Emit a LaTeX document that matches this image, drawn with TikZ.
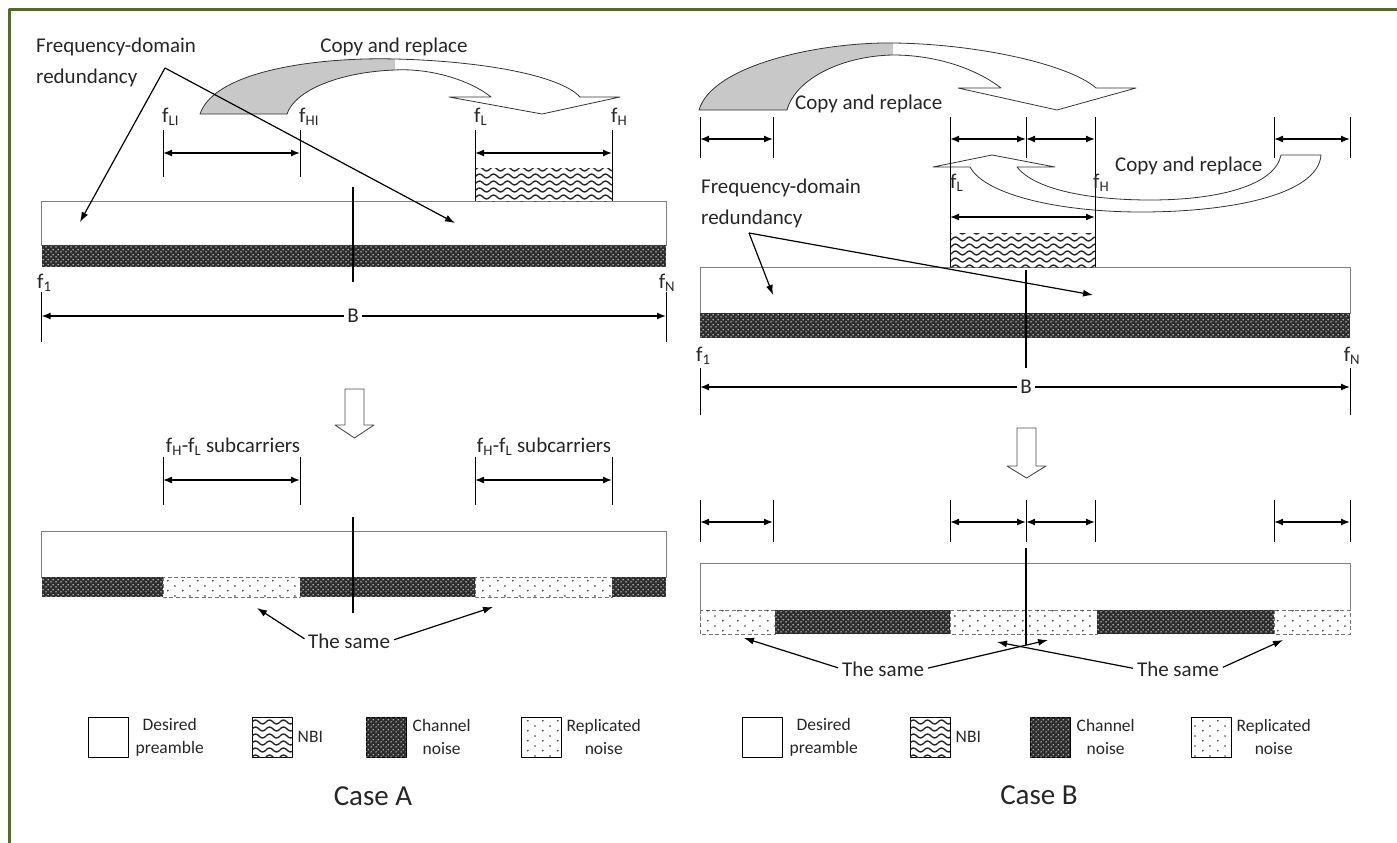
\documentclass[tikz,border=0pt]{standalone}
\usepackage{fontspec}
\setmainfont{Carlito}
\usetikzlibrary{arrows.meta,positioning,patterns.meta}
\definecolor{frameolive}{HTML}{4F6A2A}
\definecolor{backgray}{HTML}{C8C8C8}
\definecolor{textgray}{HTML}{262626}

\tikzdeclarepattern{
  name=nbiwaves, type=uncolored,
  bounding box={(0pt,-1pt) and (14pt,5pt)},
  tile size={(14pt,7pt)},
  code={\draw[line width=1.4pt] (0pt,2pt) sin (3.5pt,4pt) cos (7pt,2pt) sin (10.5pt,0pt) cos (14pt,2pt);}
}
\tikzdeclarepattern{
  name=chnoise, type=uncolored,
  bounding box={(0pt,0pt) and (5pt,5pt)},
  tile size={(5pt,5pt)},
  code={\fill (1.25pt,1.25pt) circle (0.85pt); \fill (3.75pt,3.75pt) circle (0.85pt);}
}
\tikzdeclarepattern{
  name=repdots, type=uncolored,
  bounding box={(0pt,0pt) and (15pt,10pt)},
  tile size={(15pt,10pt)},
  code={\fill (3pt,2.5pt) circle (1pt); \fill (10.5pt,7.5pt) circle (1pt);}
}

\tikzset{
  framelines/.style={draw=frameolive,line width=3pt},
  barwhite/.style={draw=black!50,line width=0.8pt,fill=white},
  chband/.style={fill=black!82,postaction={pattern=chnoise,pattern color=black!12}},
  repband/.style={draw=black!55,dash pattern=on 4pt off 2.5pt,line width=0.7pt,fill=white,
    postaction={pattern=repdots,pattern color=black!75}},
  nbipatch/.style={fill=white,postaction={pattern=nbiwaves,pattern color=black!85}},
  tickline/.style={black,line width=0.8pt},
  dimarrow/.style={{Latex[length=9pt,width=7pt]}-{Latex[length=9pt,width=7pt]},line width=1.4pt},
  halfdim/.style={-{Latex[length=9pt,width=7pt]},line width=1.4pt},
  pointer/.style={-{Latex[length=10pt,width=7pt]},line width=1.2pt},
  midline/.style={line width=1.8pt},
  copyarrow/.style={draw=black!80,line width=0.8pt},
  hollowarrow/.style={draw=black!70,line width=0.9pt,fill=white},
  lbl/.style={font=\fontsize{21}{31}\selectfont,text=textgray,inner sep=0pt},
  legtext/.style={font=\fontsize{17.5}{23}\selectfont,text=textgray,align=center,inner sep=0pt},
  legbox/.style={draw=black,line width=1pt,minimum width=40pt,minimum height=40pt,inner sep=0pt},
  casetitle/.style={font=\fontsize{29}{34}\selectfont,text=textgray}
}

\begin{document}
\begin{tikzpicture}[x=1pt,y=-1pt,line join=round]
\useasboundingbox (0,0) rectangle (1397,843);
\draw[framelines] (9.5,843) -- (9.5,9.5) -- (1397,9.5);

% ================= Case A =================
% copy and replace arrow
\fill[backgray] (200,114) .. controls (215,70) and (320,57) .. (395,59)
  -- (395,70) .. controls (340,72) and (295,90) .. (287,114) -- cycle;
\draw[copyarrow] (200,114) .. controls (215,70) and (320,57) .. (395,59)
  .. controls (480,61) and (560,75) .. (580,97) -- (620,97) -- (542,114) -- (449,97) -- (491,97)
  .. controls (470,80) and (430,68) .. (395,70) .. controls (340,72) and (295,90) .. (287,114) -- cycle;
\node[lbl] (cprA) at (394,47) {Copy and replace};

% bands
\draw[barwhite] (41.5,201) rectangle (666,245);
\fill[chband] (41.5,245) rectangle (666,267);
\fill[nbipatch] (475,168) rectangle (612,201);

% ticks and widths
\foreach \nm/\x/\ya/\yb/\ym in {aLI/163/130/177/153, aHI/300/130/177/153, aL/475/130/201/153, aH/612/130/201/153,
  aF1/41.5/292/342/316, aFN/666/292/342/316,
  aSL/163/457/505/480, aSH/300/457/505/480, aTL/475/457/505/480, aTH/612/457/505/480}{
  \coordinate (\nm t) at (\x,\ya);
  \coordinate (\nm b) at (\x,\yb);
  \coordinate (\nm m) at (\x,\ym);
  \draw[tickline] (\nm t) -- (\nm b);
}
\draw[dimarrow] (aLIm) -- (aHIm);
\draw[dimarrow] (aLm) -- (aHm);
\draw[dimarrow] (aSLm) -- (aSHm);
\draw[dimarrow] (aTLm) -- (aTHm);

\node[lbl,anchor=west] (fLIA) at (162,117) {f\textsubscript{LI}};
\node[lbl,anchor=west] (fHIA) at (299,117) {f\textsubscript{HI}};
\node[lbl,anchor=west] (fLA) at (474,117) {f\textsubscript{L}};
\node[lbl,anchor=west] (fHA) at (611,117) {f\textsubscript{H}};
\node[lbl,anchor=west] (f1A) at (37,283) {f\textsubscript{1}};
\node[lbl] (fNA) at (667,283) {f\textsubscript{N}};

\node[lbl,fill=white,inner sep=3pt] (bwA) at (353,316) {B};
\draw[halfdim] (bwA.west) -- (aF1m);
\draw[halfdim] (bwA.east) -- (aFNm);

% redundancy pointers
\node[lbl,anchor=west,align=left] (fdrA) at (36,62.5) {Frequency-domain\\redundancy};
\coordinate (apexA) at (165,68);
\coordinate (tipAL) at (80,222);
\coordinate (tipAR) at (455,223);
\draw[pointer] (apexA) -- (tipAL);
\draw[pointer] (apexA) -- (tipAR);

\coordinate (midAt) at (353,187);
\coordinate (midAb) at (353,282);
\draw[midline] (midAt) -- (midAb);

% result
\draw[hollowarrow] (345,389) -- (364,389) -- (364,425) -- (374,425) -- (354.5,438) -- (335,425) -- (345,425) -- cycle;
\node[lbl] (subA1) at (233,447) {f\textsubscript{H}-f\textsubscript{L} subcarriers};
\node[lbl] (subA2) at (544,447) {f\textsubscript{H}-f\textsubscript{L} subcarriers};

\draw[barwhite] (41.5,531) rectangle (666,577);
\fill[chband] (41.5,577) rectangle (163,597);
\draw[repband] (163,577) rectangle (300,597);
\fill[chband] (300,577) rectangle (475,597);
\draw[repband] (475,577) rectangle (612,597);
\fill[chband] (612,577) rectangle (666,597);
\coordinate (midA2t) at (353,517);
\coordinate (midA2b) at (353,613);
\draw[midline] (midA2t) -- (midA2b);

\node[lbl] (sameA) at (349,641) {The same};
\coordinate (sameAL) at (257,608);
\coordinate (sameAR) at (493,607);
\draw[pointer,shorten <=4pt] (sameA.west) -- (sameAL);
\draw[pointer,shorten <=4pt] (sameA.east) -- (sameAR);

% ================= Case B =================
\fill[backgray] (699,110) .. controls (712,65) and (820,42) .. (893,43)
  -- (893,55) .. controls (840,56) and (795,80) .. (787,110) -- cycle;
\draw[copyarrow] (699,110) .. controls (712,65) and (820,42) .. (893,43)
  .. controls (980,44) and (1070,65) .. (1096,88) -- (1136,88) -- (1057,110) -- (958,88) -- (1001,88)
  .. controls (975,68) and (935,55) .. (893,55) .. controls (840,56) and (795,80) .. (787,110) -- cycle;
\node[lbl,anchor=west] (cprB1) at (795,104) {Copy and replace};

\draw[copyarrow] (1321,155) .. controls (1318,195) and (1230,212) .. (1141,212)
  .. controls (1060,212) and (985,195) .. (970,167) -- (933,167) -- (992,155) -- (1055,167) -- (1017,167)
  .. controls (1035,190) and (1090,200) .. (1150,200) .. controls (1220,200) and (1275,185) .. (1281,155) -- cycle;
\node[lbl,anchor=west] (cprB2) at (1115,166) {Copy and replace};

\draw[barwhite] (700,267) rectangle (1350,313);
\fill[chband] (700,313) rectangle (1350,338);
\fill[nbipatch] (950,233) rectangle (1095,267);

\foreach \nm/\x/\ya/\yb/\ym in {bA/700/117/158/139, bB/773/117/158/139, bL/950/117/267/139, bC/1026/117/158/139,
  bH/1095/117/267/139, bD/1274/117/158/139, bE/1350/117/158/139,
  bF1/700/368/415/387, bFN/1350/368/415/387,
  cA/700/500/542/522, cB/773/500/542/522, cL/950/500/542/522, cC/1026/500/542/522,
  cH/1095/500/542/522, cD/1274/500/542/522, cE/1350/500/542/522}{
  \coordinate (\nm t) at (\x,\ya);
  \coordinate (\nm b) at (\x,\yb);
  \coordinate (\nm m) at (\x,\ym);
  \draw[tickline] (\nm t) -- (\nm b);
}
\draw[dimarrow] (bAm) -- (bBm);
\draw[dimarrow] (bLm) -- (bCm);
\draw[dimarrow] (bCm) -- (bHm);
\draw[dimarrow] (bDm) -- (bEm);
\draw[dimarrow] (cAm) -- (cBm);
\draw[dimarrow] (cLm) -- (cCm);
\draw[dimarrow] (cCm) -- (cHm);
\draw[dimarrow] (cDm) -- (cEm);
\coordinate (nbiBL) at (950,217);
\coordinate (nbiBH) at (1095,217);
\draw[dimarrow] (nbiBL) -- (nbiBH);

\node[lbl,anchor=west] (fLB) at (950,183) {f\textsubscript{L}};
\node[lbl,anchor=west] (fHB) at (1093,183) {f\textsubscript{H}};
\node[lbl,anchor=west] (f1B) at (696,356) {f\textsubscript{1}};
\node[lbl] (fNB) at (1352,356) {f\textsubscript{N}};

\node[lbl,fill=white,inner sep=3pt] (bwB) at (1026,387) {B};
\draw[halfdim] (bwB.west) -- (bF1m);
\draw[halfdim] (bwB.east) -- (bFNm);

\node[lbl,anchor=west,align=left] (fdrB) at (701,203) {Frequency-domain\\redundancy};
\coordinate (apexB) at (749,233);
\coordinate (tipBL) at (773,295);
\coordinate (tipBR) at (1093,295);
\draw[pointer] (apexB) -- (tipBL);
\draw[pointer] (apexB) -- (tipBR);

\coordinate (midBt) at (1026,270);
\coordinate (midBb) at (1026,368);
\draw[midline] (midBt) -- (midBb);

\draw[hollowarrow] (1017,428) -- (1036,428) -- (1036,466) -- (1046,466) -- (1026.5,478) -- (1007,466) -- (1017,466) -- cycle;

\draw[barwhite] (700,563) rectangle (1350,610);
\draw[repband] (700,610) rectangle (775,634);
\fill[chband] (775,610) rectangle (950,634);
\draw[repband] (950,610) rectangle (1097,634);
\fill[chband] (1097,610) rectangle (1274,634);
\draw[repband] (1274,610) rectangle (1350,634);
\coordinate (midB2t) at (1026,548);
\coordinate (midB2b) at (1026,645);
\draw[midline] (midB2t) -- (midB2b);

\node[lbl] (sameB1) at (883,669) {The same};
\node[lbl] (sameB2) at (1178,669) {The same};
\coordinate (sameB1L) at (744,638);
\coordinate (sameB1R) at (1048,640);
\coordinate (sameB2L) at (997,642);
\coordinate (sameB2R) at (1283,640);
\draw[pointer,shorten <=4pt] (sameB1.west) -- (sameB1L);
\draw[pointer,shorten <=4pt] (sameB1.east) -- (sameB1R);
\draw[pointer,shorten <=4pt] (sameB2.west) -- (sameB2L);
\draw[pointer,shorten <=4pt] (sameB2.east) -- (sameB2R);

% ================= legends =================
\foreach \cs/\xa/\xb/\xc/\xd in {A/108/272/386/541, B/762/930/1050/1211}{
  \node[legbox,fill=white] (des\cs) at (\xa,737) {};
  \node[legtext,right=7pt of des\cs] (desT\cs) {Desired\\preamble};
  \node[legbox,fill=white,postaction={pattern=nbiwaves,pattern color=black!85}] (nbi\cs) at (\xb,737) {};
  \node[legtext,right=5pt of nbi\cs] (nbiT\cs) {NBI};
  \node[legbox,fill=black!82,postaction={pattern=chnoise,pattern color=black!12}] (chn\cs) at (\xc,737) {};
  \node[legtext,right=6pt of chn\cs] (chnT\cs) {Channel\\noise};
  \node[legbox,fill=white,postaction={pattern=repdots,pattern color=black!75}] (rep\cs) at (\xd,737) {};
  \node[legtext,right=5pt of rep\cs] (repT\cs) {Replicated\\noise};
}
\node[casetitle] (caseA) at (373,796) {Case A};
\node[casetitle] (caseB) at (1039,795) {Case B};
\end{tikzpicture}
\end{document}
